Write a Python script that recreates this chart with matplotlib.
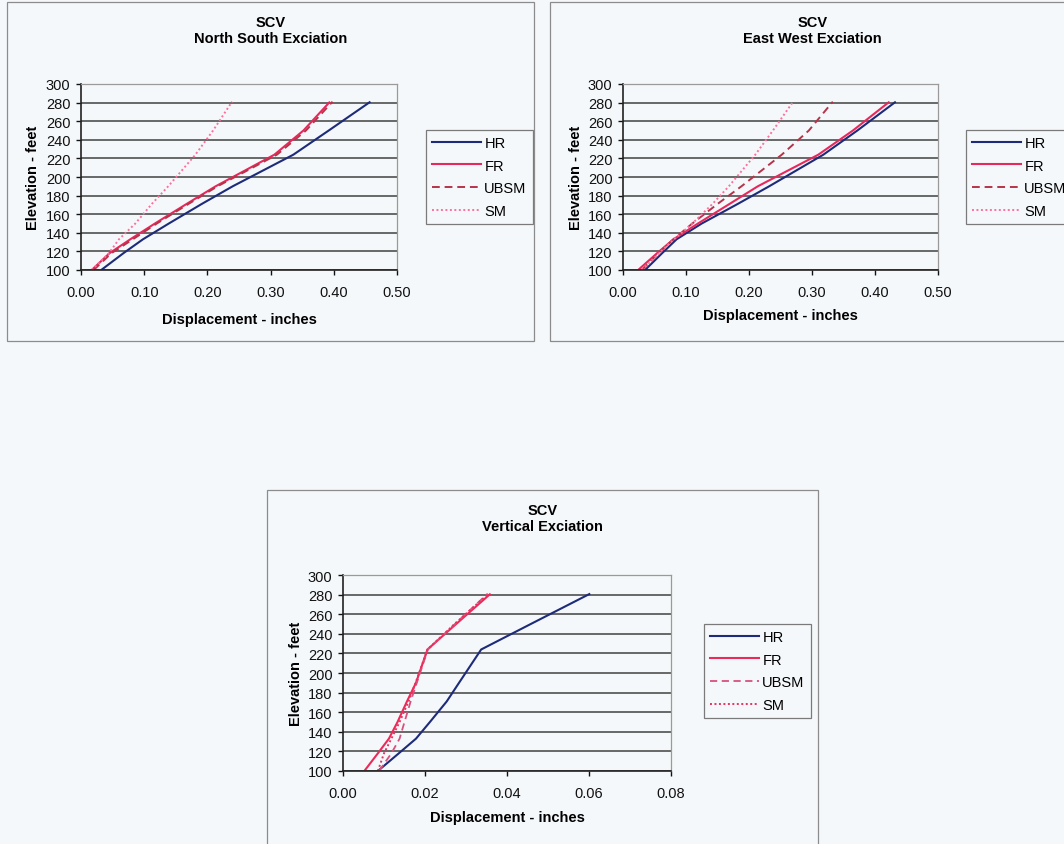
import matplotlib
matplotlib.use("Agg")
import matplotlib.pyplot as plt
from matplotlib.patches import Rectangle
from matplotlib.lines import Line2D
from matplotlib import font_manager

# Floor elevations (feet) at which displacements are reported
ELEVATION = [100, 118, 133, 150, 171, 190, 224, 250, 281]
SERIES = ["HR", "FR", "UBSM", "SM"]

# North-South excitation, displacement in inches
NS_HR = [0.032, 0.067, 0.098, 0.139, 0.191, 0.240, 0.336, 0.392, 0.458]
NS_FR = [0.017, 0.045, 0.078, 0.117, 0.167, 0.213, 0.306, 0.352, 0.394]
NS_UBSM = [0.020, 0.048, 0.082, 0.120, 0.170, 0.216, 0.310, 0.356, 0.398]
NS_SM = [0.017, 0.044, 0.060, 0.086, 0.112, 0.138, 0.181, 0.209, 0.239]

# East-West excitation
EW_HR = [0.035, 0.062, 0.085, 0.125, 0.182, 0.232, 0.318, 0.372, 0.433]
EW_FR = [0.024, 0.054, 0.080, 0.119, 0.169, 0.214, 0.310, 0.365, 0.423]
EW_UBSM = [0.030, 0.056, 0.080, 0.110, 0.150, 0.188, 0.252, 0.295, 0.333]
EW_SM = [0.030, 0.057, 0.081, 0.110, 0.142, 0.168, 0.210, 0.238, 0.270]

# Vertical excitation
V_HR = [0.0085, 0.0136, 0.0178, 0.0212, 0.0253, 0.0283, 0.0337, 0.0458, 0.0603]
V_FR = [0.0052, 0.0085, 0.0112, 0.0133, 0.0156, 0.0178, 0.0206, 0.0276, 0.0360]
V_UBSM = [0.0088, 0.0118, 0.0138, 0.0150, 0.0165, 0.0180, 0.0207, 0.0273, 0.0353]
V_SM = [0.0085, 0.0100, 0.0118, 0.0138, 0.0160, 0.0177, 0.0206, 0.0272, 0.0355]

Y_TICKS = list(range(100, 301, 20))
X_TICKS_H = [0.0, 0.1, 0.2, 0.3, 0.4, 0.5]
X_TICKS_V = [0.0, 0.02, 0.04, 0.06, 0.08]


def pick_family():
    for name in ["Liberation Sans Narrow", "Arial Narrow"]:
        try:
            font_manager.findfont(font_manager.FontProperties(family=name),
                                  fallback_to_default=False)
            return [name, "Liberation Sans", "DejaVu Sans"]
        except ValueError:
            pass
    return ["Liberation Sans", "DejaVu Sans"]


plt.rcParams["font.family"] = pick_family()

W, H = 1064, 845
BG = "#f5f8fa"
fig = plt.figure(figsize=(W / 100, H / 100), dpi=100, facecolor=BG)


def frect(x0, y0, x1, y1):
    return [x0 / W, 1 - y1 / H, (x1 - x0) / W, (y1 - y0) / H]


def panel_box(x0, y0, x1, y1):
    fig.add_artist(Rectangle((x0 / W, 1 - y1 / H), (x1 - x0) / W, (y1 - y0) / H,
                             transform=fig.transFigure, fill=False,
                             ec="#8c8c8c", lw=0.9))


STYLE_H = {
    "HR": dict(color="#1d2b7a", lw=1.5, ls="-"),
    "FR": dict(color="#e8285c", lw=1.5, ls="-"),
    "UBSM": dict(color="#b5344a", lw=1.4, ls=(0, (4, 2.5))),
    "SM": dict(color="#ff6f9c", lw=1.4, ls=(0, (1, 1.3))),
}
STYLE_V = {
    "HR": dict(color="#1d2b7a", lw=1.5, ls="-"),
    "FR": dict(color="#ec2a5a", lw=1.5, ls="-"),
    "UBSM": dict(color="#d9507c", lw=1.3, ls=(0, (4, 2.5))),
    "SM": dict(color="#e8305e", lw=1.4, ls=(0, (1, 1.3))),
}


def make_panel(box, plot, title, xticks, xlim, data, styles, legend_xy,
               xlabel_y, ylabel_x):
    panel_box(*box)
    ax = fig.add_axes(frect(*plot))
    ax.set_facecolor(BG)
    for name, vals in zip(SERIES, data):
        ax.plot(vals, ELEVATION, label=name, solid_capstyle="butt",
                **styles[name])
    ax.set_xlim(*xlim)
    ax.set_ylim(100, 300)
    ax.set_yticks(Y_TICKS)
    ax.set_xticks(xticks)
    ax.set_xticklabels([f"{v:.2f}" for v in xticks])
    ax.yaxis.grid(True, color="#5c5c5c", lw=1.3)
    ax.set_axisbelow(True)
    for s in ("left", "bottom"):
        ax.spines[s].set_color("#222222")
        ax.spines[s].set_linewidth(1.2)
    for s in ("top", "right"):
        ax.spines[s].set_color("#9a9a9a")
        ax.spines[s].set_linewidth(0.9)
    ax.tick_params(axis="both", direction="out", length=3.5, width=1,
                   labelsize=10.5, colors="#111111")
    ax.tick_params(axis="x", pad=7)
    ax.tick_params(axis="y", pad=4)

    x0, y0, x1, y1 = plot
    ax.set_xlabel("Displacement - inches", fontsize=10.5, fontweight="bold")
    ax.xaxis.label.set_verticalalignment("center")
    ax.xaxis.set_label_coords(0.5, (y1 - xlabel_y) / (y1 - y0))
    ax.set_ylabel("Elevation - feet", fontsize=10.5, fontweight="bold")
    ax.yaxis.label.set_verticalalignment("center")
    ax.yaxis.set_label_coords((ylabel_x - x0) / (x1 - x0), 0.5)

    bx0, by0, bx1, by1 = box
    fig.text((bx0 + bx1) / 2 / W, 1 - (by0 + 28) / H, title, ha="center",
             va="center", fontsize=10.5, fontweight="bold", linespacing=1.25)

    handles = [Line2D([], [], **styles[n]) for n in SERIES]
    leg = ax.legend(handles, SERIES, loc="upper left",
                    bbox_to_anchor=(legend_xy[0] / W, 1 - legend_xy[1] / H),
                    bbox_transform=fig.transFigure, borderaxespad=0,
                    fancybox=False, framealpha=1, facecolor=BG,
                    edgecolor="#7a7a7a", fontsize=10.5, handlelength=3.4,
                    handletextpad=0.2, labelspacing=0.6, borderpad=0.4)
    leg.get_frame().set_linewidth(0.9)
    return ax


make_panel((7, 3, 534, 342), (81, 85, 397, 271),
           "SCV\nNorth South Exciation", X_TICKS_H, (0, 0.5),
           [NS_HR, NS_FR, NS_UBSM, NS_SM], STYLE_H, (426, 131), 320, 33)

make_panel((550, 3, 1075, 342), (623, 85, 938, 271),
           "SCV\nEast West Exciation", X_TICKS_H, (0, 0.5),
           [EW_HR, EW_FR, EW_UBSM, EW_SM], STYLE_H, (966, 131), 316, 576)

make_panel((267, 491, 818, 852), (343, 576, 671, 772),
           "SCV\nVertical Exciation", X_TICKS_V, (0, 0.08),
           [V_HR, V_FR, V_UBSM, V_SM], STYLE_V, (704, 625), 818, 296)

fig.savefig("out.png", dpi=100, facecolor=BG)
